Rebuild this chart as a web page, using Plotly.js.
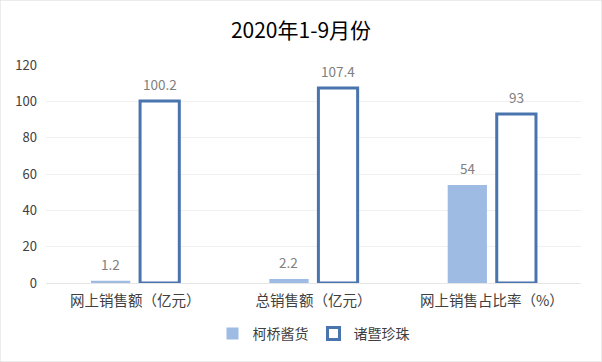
<!DOCTYPE html>
<html><head><meta charset="utf-8">
<script src="https://cdn.plot.ly/plotly-3.0.1.min.js"></script>
<style>html,body{margin:0;padding:0;background:#fff}#c{width:602px;height:362px}</style>
</head><body><div id="c"></div>
<script>
var categories = ["网上销售额（亿元）", "总销售额（亿元）", "网上销售占比率（%）"];
var keqiaoValues = [1.2, 2.2, 54];
var zhujiValues = [100.2, 107.4, 93];
var seriesNames = ["柯桥酱货", "诸暨珍珠"];
var yTicks = [0, 20, 40, 60, 80, 100, 120];

var font = "'Noto Sans CJK SC', 'Liberation Sans', sans-serif";
var W = 602, H = 362, mL = 46, mR = 21, mT = 65, mB = 79;
var bargap = 0.45;
var catW = (W - mL - mR) / categories.length;
var slot = catW * (1 - bargap) / 2;

var traces = [
  {type:'bar', name:seriesNames[0], x:categories, y:keqiaoValues,
   marker:{color:'#9dbbe3', line:{width:0}}},
  {type:'bar', name:seriesNames[1], x:categories, y:zhujiValues,
   marker:{color:'#ffffff', line:{color:'#4a74ad', width:3}}}
];
var annotations = [];
[keqiaoValues, zhujiValues].forEach(function(vals, s){
  vals.forEach(function(v, i){
    annotations.push({x:categories[i], y:v, xref:'x', yref:'y', text:String(v), showarrow:false,
      xanchor:'center', yanchor:'bottom', xshift:(s === 0 ? -1 : 1) * slot / 2, yshift:5,
      font:{color:'#808080', size:13.5, family:font}});
  });
});
var layout = {
  width:W, height:H,
  margin:{l:mL, r:mR, t:mT, b:mB},
  paper_bgcolor:'#ffffff', plot_bgcolor:'#ffffff',
  font:{family:font, color:'#404040', size:12},
  title:{text:'2020年1-9月份', font:{size:21, color:'#000000', family:font}, x:0.5, xanchor:'center', y:0.915, yanchor:'middle'},
  barmode:'group', bargap:bargap, bargroupgap:0.2,
  xaxis:{showline:true, linecolor:'#e6e6e6', linewidth:1, ticks:'', tickfont:{size:14.5, color:'#404040'}, ticklabelstandoff:5, fixedrange:true},
  yaxis:{range:[0,120], tickvals:yTicks, showgrid:true, gridcolor:'#f0f0f0', zeroline:false, showline:false, ticks:'', tickfont:{size:13, color:'#404040'}, ticklabelstandoff:8},
  legend:{orientation:'h', x:0.5, xanchor:'center', y:-0.234, yanchor:'middle', font:{size:14, color:'#404040'}, itemwidth:30},
  annotations:annotations,
  shapes:[{type:'rect', xref:'paper', yref:'paper', x0:-mL/(W-mL-mR), x1:1+mR/(W-mL-mR), y0:-mB/(H-mT-mB), y1:1+mT/(H-mT-mB), line:{color:'#d9d9d9', width:1}, fillcolor:'rgba(0,0,0,0)'}],
  showlegend:true
};
Plotly.newPlot('c', traces, layout, {displayModeBar:false, staticPlot:true});
</script></body></html>
